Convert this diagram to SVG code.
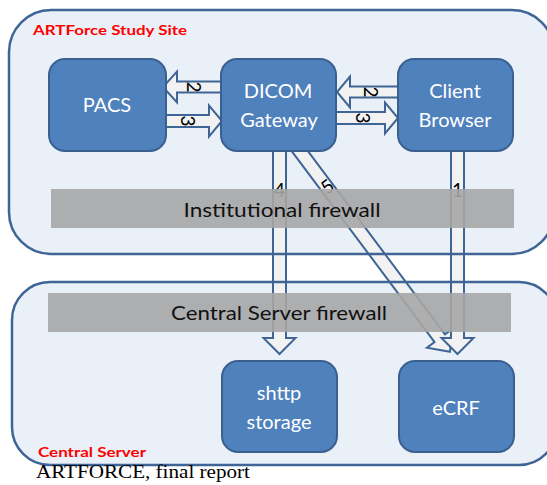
<svg xmlns="http://www.w3.org/2000/svg" width="547" height="485" viewBox="0 0 547 485">
  <style>
    .zone-fill { fill: #EAF0F8; stroke: none; }
    .zone-edge { fill: none; stroke: #3E6596; stroke-width: 2.5; }
    .node rect { fill: #4F81BD; stroke: #3A6090; stroke-width: 2; }
    .node text { fill: #FFFFFF; font-family: Lato, "Open Sans", "Liberation Sans", sans-serif; font-size: 20px; text-anchor: middle; }
    .flow { fill: #F2F2F2; stroke: #3F6596; stroke-width: 2; stroke-linejoin: miter; }
    .num { fill: #000000; font-family: Lato, "Open Sans", "Liberation Sans", sans-serif; font-size: 19px; text-anchor: middle; dominant-baseline: central; }
    .wall rect { fill: #A6A6A6; opacity: 0.9; }
    .wall text { fill: #111111; font-family: Lato, "Open Sans", "Liberation Sans", sans-serif; font-size: 20px; text-anchor: middle; }
    .zone-title { fill: #FF0000; font-family: Lato, "Open Sans", "Liberation Sans", sans-serif; font-size: 14px; font-weight: bold; }
  </style>

  <!-- zone backgrounds -->
  <rect class="zone-fill" x="9" y="10" width="545" height="244" rx="42"/>
  <rect class="zone-fill" x="12" y="282" width="545" height="183" rx="38"/>

  <!-- data flows -->
  <g id="connectors">
    <!-- 2: gateway to PACS -->
    <polygon class="flow" points="225,81.5 177,81.5 177,71.5 163,87 177,102.5 177,92.5 225,92.5"/>
    <text class="num" transform="translate(194,87) rotate(90)">2</text>
    <!-- 3: PACS to gateway -->
    <polygon class="flow" points="162,115 209,115 209,105.5 222,121 209,136.5 209,127 162,127"/>
    <text class="num" transform="translate(188,121) rotate(90)">3</text>
    <!-- 2: browser to gateway -->
    <polygon class="flow" points="402,86.5 350,86.5 350,76.5 337,92 350,107.5 350,97.5 402,97.5"/>
    <text class="num" transform="translate(371,92) rotate(90)">2</text>
    <!-- 3: gateway to browser -->
    <polygon class="flow" points="333,112 385,112 385,102.5 398,118 385,133.5 385,124 333,124"/>
    <text class="num" transform="translate(363,118) rotate(90)">3</text>
    <!-- 4: gateway to storage -->
    <polygon class="flow" points="273,146 286,146 286,338 295.5,338 279.5,354 263.5,338 273,338"/>
    <text class="num" x="279.5" y="189">4</text>
    <!-- 5: gateway to eCRF -->
    <polygon class="flow" transform="translate(296,146) rotate(53.2)" points="0,-6.5 240,-6.5 240,-16 257,0 240,16 240,6.5 0,6.5"/>
    <text class="num" transform="translate(327,186) rotate(-36.8)">5</text>
    <!-- 1: browser to eCRF -->
    <polygon class="flow" points="451,146 464,146 464,338 473.5,338 457.5,354 441.5,338 451,338"/>
    <text class="num" x="457.5" y="189">1</text>
  </g>

  <!-- zone outlines -->
  <g id="study-site">
    <rect class="zone-edge" x="9" y="10" width="545" height="244" rx="42"/>
    <text class="zone-title" x="33" y="35" textLength="154" lengthAdjust="spacingAndGlyphs">ARTForce Study Site</text>
  </g>
  <g id="central-server">
    <rect class="zone-edge" x="12" y="282" width="545" height="183" rx="38"/>
    <text class="zone-title" x="38" y="457" textLength="108" lengthAdjust="spacingAndGlyphs">Central Server</text>
  </g>

  <!-- firewalls -->
  <g id="institutional-firewall" class="wall">
    <rect x="51" y="189" width="463" height="39"/>
    <text x="282" y="217" textLength="197" lengthAdjust="spacingAndGlyphs">Institutional firewall</text>
  </g>
  <g id="central-firewall" class="wall">
    <rect x="48" y="293" width="463" height="39"/>
    <text x="279" y="320" textLength="216" lengthAdjust="spacingAndGlyphs">Central Server firewall</text>
  </g>

  <!-- systems -->
  <g id="pacs" class="node">
    <rect x="49" y="59" width="117" height="92" rx="16"/>
    <text x="107" y="112">PACS</text>
  </g>
  <g id="dicom-gateway" class="node">
    <rect x="221" y="59" width="115" height="92" rx="16"/>
    <text x="278" y="98">DICOM</text>
    <text x="279" y="127">Gateway</text>
  </g>
  <g id="client-browser" class="node">
    <rect x="398" y="59" width="115" height="92" rx="16"/>
    <text x="455" y="98">Client</text>
    <text x="455" y="127">Browser</text>
  </g>
  <g id="shttp-storage" class="node">
    <rect x="222" y="361" width="115" height="91" rx="16"/>
    <text x="279" y="400">shttp</text>
    <text x="279" y="429">storage</text>
  </g>
  <g id="ecrf" class="node">
    <rect x="399" y="361" width="115" height="91" rx="16"/>
    <text x="456" y="415">eCRF</text>
  </g>

  <text x="36" y="478" font-family="'Liberation Serif', 'Times New Roman', serif" font-size="18" fill="#000000" textLength="214" lengthAdjust="spacingAndGlyphs">ARTFORCE, final report</text>
</svg>
